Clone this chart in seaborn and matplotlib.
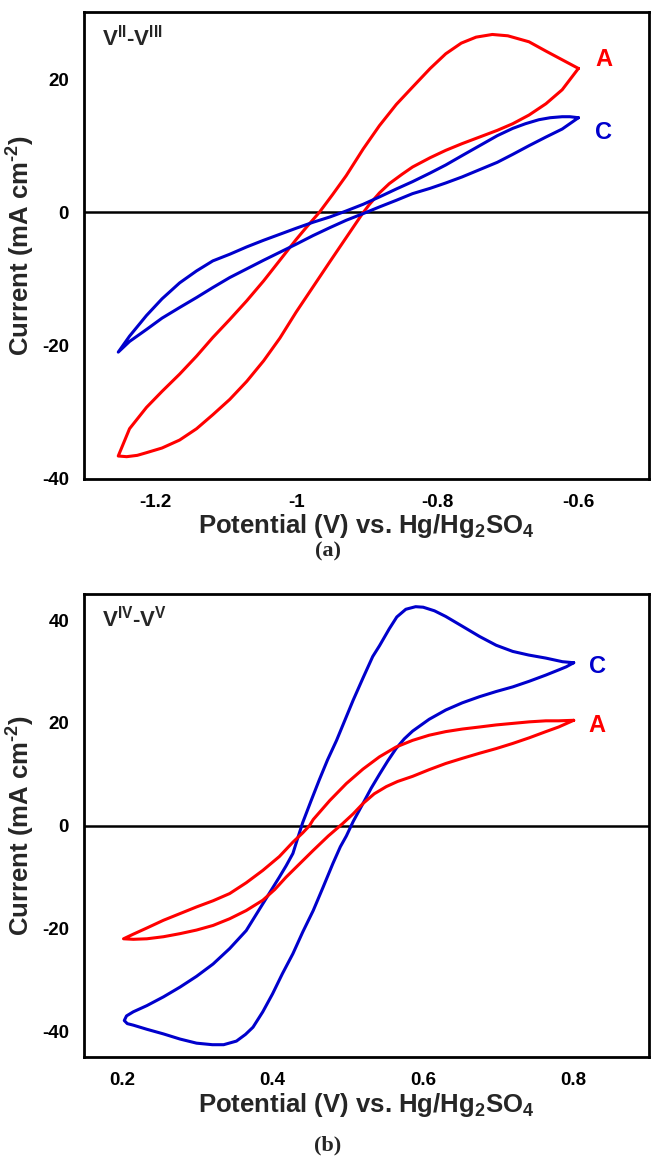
import matplotlib
matplotlib.use("Agg")
import matplotlib.pyplot as plt
import seaborn as sns

# (a) V(II)/V(III) – curve A (red) and curve C (blue), closed CV loops
a_A_potential = [-0.600, -0.623, -0.646, -0.670, -0.700, -0.722, -0.745, -0.766, -0.788, -0.810,
                 -0.835, -0.858, -0.882, -0.905, -0.929, -0.948, -0.967, -0.985, -1.000, -1.023,
                 -1.046, -1.070, -1.094, -1.118, -1.141, -1.165, -1.190, -1.212, -1.236, -1.252,
                 -1.240, -1.225, -1.212, -1.190, -1.165, -1.141, -1.118, -1.094, -1.070, -1.046,
                 -1.023, -1.000, -0.976, -0.952, -0.929, -0.906, -0.896, -0.882, -0.868, -0.850,
                 -0.835, -0.810, -0.788, -0.765, -0.740, -0.715, -0.693, -0.670, -0.646, -0.623, -0.600]
a_A_current = [21.6, 22.9, 24.2, 25.6, 26.5, 26.7, 26.3, 25.4, 23.8, 21.6,
               18.8, 16.2, 13.0, 9.5, 5.5, 2.7, 0.0, -2.2, -4.1, -7.2,
               -10.3, -13.3, -16.1, -18.8, -21.6, -24.3, -26.9, -29.3, -32.5, -36.6,
               -36.7, -36.5, -36.1, -35.4, -34.2, -32.5, -30.4, -28.1, -25.4, -22.3,
               -18.9, -15.0, -11.2, -7.4, -3.8, -0.2, 1.2, 2.9, 4.3, 5.7,
               6.8, 8.2, 9.3, 10.3, 11.3, 12.3, 13.3, 14.6, 16.3, 18.4, 21.6]

a_C_potential = [-0.600, -0.612, -0.623, -0.640, -0.656, -0.675, -0.693, -0.715, -0.740, -0.765,
                 -0.788, -0.810, -0.835, -0.858, -0.882, -0.905, -0.929, -0.952, -0.976, -1.000,
                 -1.023, -1.046, -1.070, -1.094, -1.118, -1.141, -1.165, -1.190, -1.212, -1.236, -1.252,
                 -1.236, -1.212, -1.190, -1.165, -1.141, -1.118, -1.094, -1.070, -1.046, -1.023,
                 -1.000, -0.976, -0.952, -0.929, -0.905, -0.882, -0.858, -0.835, -0.810, -0.788,
                 -0.765, -0.740, -0.715, -0.693, -0.670, -0.646, -0.623, -0.600]
a_C_current = [14.2, 14.35, 14.35, 14.2, 13.9, 13.3, 12.6, 11.5, 10.0, 8.5,
               7.1, 5.9, 4.6, 3.5, 2.3, 1.2, 0.2, -0.7, -1.5, -2.4,
               -3.3, -4.2, -5.2, -6.3, -7.3, -8.8, -10.6, -13.0, -15.5, -18.6, -21.0,
               -19.4, -17.6, -15.9, -14.3, -12.8, -11.3, -9.8, -8.5, -7.2, -6.0,
               -4.8, -3.5, -2.3, -1.2, -0.2, 0.8, 1.8, 2.8, 3.6, 4.4,
               5.3, 6.4, 7.5, 8.7, 10.0, 11.3, 12.5, 14.2]

# (b) V(IV)/V(V)
b_C_potential = [0.800, 0.785, 0.763, 0.740, 0.719, 0.697, 0.675, 0.652, 0.630, 0.615,
                 0.600, 0.590, 0.577, 0.565, 0.555, 0.542, 0.533, 0.520, 0.507, 0.496,
                 0.485, 0.473, 0.462, 0.451, 0.440, 0.433, 0.427, 0.418, 0.409, 0.398,
                 0.387, 0.376, 0.365, 0.343, 0.321, 0.299, 0.277, 0.255, 0.233, 0.215,
                 0.206, 0.203, 0.207, 0.215, 0.233, 0.255, 0.277, 0.299, 0.320, 0.335,
                 0.352, 0.364, 0.374, 0.387, 0.400, 0.413, 0.427, 0.440, 0.454, 0.467,
                 0.480, 0.490, 0.498, 0.507, 0.520, 0.531, 0.542, 0.553, 0.564, 0.575,
                 0.586, 0.608, 0.630, 0.652, 0.675, 0.697, 0.719, 0.741, 0.763, 0.780, 0.790, 0.800]
b_C_current = [31.7, 31.9, 32.6, 33.2, 33.9, 35.1, 36.8, 38.8, 40.7, 41.8,
               42.5, 42.6, 42.1, 40.6, 38.3, 35.0, 32.9, 28.7, 24.4, 20.5,
               16.6, 12.8, 8.9, 4.8, 0.6, -2.6, -5.4, -7.8, -10.0, -12.6,
               -15.2, -17.8, -20.4, -23.9, -26.9, -29.3, -31.4, -33.3, -35.0, -36.2,
               -37.0, -37.9, -38.5, -38.8, -39.6, -40.5, -41.5, -42.3, -42.6, -42.6,
               -41.9, -40.6, -39.2, -36.2, -32.7, -28.8, -24.9, -20.7, -16.5, -12.0,
               -7.4, -4.1, -2.0, 0.8, 4.3, 7.3, 10.0, 12.6, 15.0, 16.9,
               18.4, 20.7, 22.5, 23.9, 25.1, 26.1, 27.0, 28.1, 29.3, 30.3, 30.9, 31.7]

b_A_potential = [0.800, 0.780, 0.763, 0.741, 0.719, 0.697, 0.675, 0.652, 0.630, 0.608,
                 0.586, 0.564, 0.542, 0.520, 0.498, 0.476, 0.454, 0.449, 0.440, 0.427,
                 0.409, 0.387, 0.365, 0.343, 0.321, 0.299, 0.277, 0.255, 0.233, 0.215, 0.202,
                 0.215, 0.233, 0.255, 0.277, 0.299, 0.321, 0.343, 0.365, 0.387, 0.403,
                 0.418, 0.436, 0.454, 0.474, 0.493, 0.507, 0.520, 0.535, 0.551, 0.566,
                 0.586, 0.608, 0.630, 0.652, 0.675, 0.697, 0.719, 0.741, 0.763, 0.780, 0.800]
b_A_current = [20.5, 20.4, 20.4, 20.2, 19.9, 19.6, 19.2, 18.8, 18.3, 17.6,
               16.6, 15.3, 13.4, 11.0, 8.2, 4.9, 1.2, 0.0, -1.4, -3.2,
               -6.0, -8.7, -11.1, -13.2, -14.6, -15.8, -17.1, -18.4, -19.9, -21.1, -22.0,
               -22.1, -22.0, -21.6, -21.0, -20.3, -19.4, -18.1, -16.5, -14.5, -12.4,
               -10.0, -7.4, -4.8, -2.0, 0.4, 2.3, 4.3, 6.2, 7.6, 8.6,
               9.6, 10.9, 12.1, 13.1, 14.1, 15.0, 16.0, 17.1, 18.3, 19.2, 20.5]

a_xticks = [-1.2, -1.0, -0.8, -0.6]
a_xticklabels = ["-1.2", "-1", "-0.8", "-0.6"]
a_yticks = [-40, -20, 0, 20]
b_xticks = [0.2, 0.4, 0.6, 0.8]
b_xticklabels = ["0.2", "0.4", "0.6", "0.8"]
b_yticks = [-40, -20, 0, 20, 40]

RED = "#FF0000"
BLUE = "#0000CC"

sns.set_style("white")
plt.rcParams["font.family"] = ["Liberation Sans", "DejaVu Sans"]
plt.rcParams["font.weight"] = "bold"
plt.rcParams["axes.unicode_minus"] = False
plt.rcParams["mathtext.fontset"] = "custom"
plt.rcParams["mathtext.rm"] = "Liberation Sans:bold"
plt.rcParams["mathtext.bf"] = "Liberation Sans:bold"
plt.rcParams["mathtext.it"] = "Liberation Sans:bold"

fig = plt.figure(figsize=(6.52, 11.57), dpi=100)
ax1 = fig.add_axes([0.1294, 0.5863, 0.866, 0.4029])
ax2 = fig.add_axes([0.1294, 0.0864, 0.866, 0.3999])

def style_axis(ax, xlim, ylim, xticks, xticklabels, yticks):
    ax.axhline(0, color="black", lw=1.8, zorder=1)
    ax.set_xlim(*xlim)
    ax.set_ylim(*ylim)
    ax.set_xticks(xticks)
    ax.set_xticklabels(xticklabels)
    ax.set_yticks(yticks)
    ax.set_yticklabels([str(v) for v in yticks])
    ax.tick_params(direction="in", length=4, width=1.6, labelsize=13.5, pad=11, colors="black")
    for s in ax.spines.values():
        s.set_color("black")
        s.set_linewidth(2.0)
    ax.set_xlabel(r"Potential (V) vs. Hg/Hg$_\mathbf{2}$SO$_\mathbf{4}$", fontsize=18.5,
                  fontweight="bold", labelpad=1)
    ax.set_ylabel("Current (mA cm$^{\\mathbf{\u2010}\\mathbf{2}}$)", fontsize=18.5,
                  fontweight="bold", labelpad=4)

sns.lineplot(x=a_A_potential, y=a_A_current, sort=False, estimator=None, color=RED, lw=2.2, ax=ax1)
sns.lineplot(x=a_C_potential, y=a_C_current, sort=False, estimator=None, color=BLUE, lw=2.2, ax=ax1)
style_axis(ax1, (-1.3, -0.5), (-40, 30), a_xticks, a_xticklabels, a_yticks)
ax1.text(0.031, 0.975, r"V$^\mathbf{II}$-V$^\mathbf{III}$", transform=ax1.transAxes,
         fontsize=16, fontweight="bold", va="top", ha="left")
ax1.text(-0.564, 23.0, "A", color=RED, fontsize=17, fontweight="bold", ha="center", va="center")
ax1.text(-0.564, 12.0, "C", color=BLUE, fontsize=17, fontweight="bold", ha="center", va="center")

sns.lineplot(x=b_C_potential, y=b_C_current, sort=False, estimator=None, color=BLUE, lw=2.2, ax=ax2)
sns.lineplot(x=b_A_potential, y=b_A_current, sort=False, estimator=None, color=RED, lw=2.2, ax=ax2)
style_axis(ax2, (0.15, 0.9), (-45, 45), b_xticks, b_xticklabels, b_yticks)
ax2.text(0.031, 0.975, r"V$^\mathbf{IV}$-V$^\mathbf{V}$", transform=ax2.transAxes,
         fontsize=16, fontweight="bold", va="top", ha="left")
ax2.text(0.831, 31.0, "C", color=BLUE, fontsize=17, fontweight="bold", ha="center", va="center")
ax2.text(0.831, 19.5, "A", color=RED, fontsize=17, fontweight="bold", ha="center", va="center")

fig.text(0.503, 1 - 551 / 1157, "(a)", family="Liberation Serif", fontsize=16,
         fontweight="bold", ha="center", va="center")
fig.text(0.503, 1 - 1145 / 1157, "(b)", family="Liberation Serif", fontsize=16,
         fontweight="bold", ha="center", va="center")

fig.savefig("out.png", dpi=100)
